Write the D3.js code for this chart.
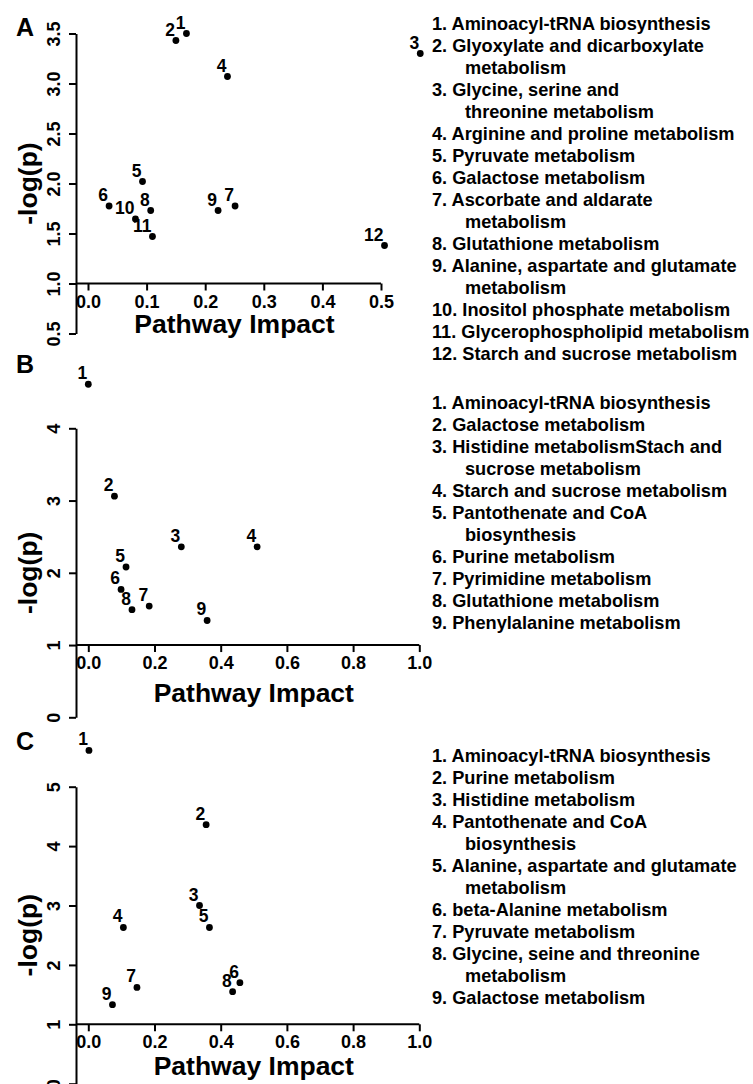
<!DOCTYPE html>
<html>
<head>
<meta charset="utf-8">
<script src="https://cdn.jsdelivr.net/npm/d3@7"></script>
<style>
  body { margin: 0; background: #fff; }
  svg { display: block; font-family: "Liberation Sans", Arial, sans-serif; font-weight: bold; }
</style>
</head>
<body>
<div id="chart"></div>
<script>
// panel A
const impactA = [0.168, 0.150, 0.567, 0.238, 0.093, 0.036, 0.251, 0.107, 0.222, 0.081, 0.110, 0.506];
const logpA = [3.50, 3.43, 3.30, 3.07, 2.02, 1.775, 1.775, 1.73, 1.73, 1.645, 1.47, 1.38];
const pathwaysA = [
  "Aminoacyl-tRNA biosynthesis",
  "Glyoxylate and dicarboxylate\nmetabolism",
  "Glycine, serine and\nthreonine metabolism",
  "Arginine and proline metabolism",
  "Pyruvate metabolism",
  "Galactose metabolism",
  "Ascorbate and aldarate\nmetabolism",
  "Glutathione metabolism",
  "Alanine, aspartate and glutamate\nmetabolism",
  "Inositol phosphate metabolism",
  "Glycerophospholipid metabolism",
  "Starch and sucrose metabolism"
];
const xTicksA = [0, 0.1, 0.2, 0.3, 0.4, 0.5];
const yTicksA = [0.5, 1.0, 1.5, 2.0, 2.5, 3.0, 3.5];

// panel B
const impactB = [0.0, 0.079, 0.281, 0.510, 0.114, 0.099, 0.184, 0.132, 0.359];
const logpB = [4.61, 3.06, 2.36, 2.36, 2.08, 1.77, 1.54, 1.49, 1.34];
const pathwaysB = [
  "Aminoacyl-tRNA biosynthesis",
  "Galactose metabolism",
  "Histidine metabolismStach and\nsucrose metabolism",
  "Starch and sucrose metabolism",
  "Pantothenate and CoA\nbiosynthesis",
  "Purine metabolism",
  "Pyrimidine metabolism",
  "Glutathione metabolism",
  "Phenylalanine metabolism"
];
const xTicksB = [0, 0.2, 0.4, 0.6, 0.8, 1.0];
const yTicksB = [0, 1, 2, 3, 4];

// panel C
const impactC = [0.002, 0.356, 0.336, 0.106, 0.366, 0.458, 0.147, 0.436, 0.073];
const logpC = [5.61, 4.36, 3.00, 2.63, 2.63, 1.70, 1.62, 1.55, 1.33];
const pathwaysC = [
  "Aminoacyl-tRNA biosynthesis",
  "Purine metabolism",
  "Histidine metabolism",
  "Pantothenate and CoA\nbiosynthesis",
  "Alanine, aspartate and glutamate\nmetabolism",
  "beta-Alanine metabolism",
  "Pyruvate metabolism",
  "Glycine, seine and threonine\nmetabolism",
  "Galactose metabolism"
];
const xTicksC = [0, 0.2, 0.4, 0.6, 0.8, 1.0];
const yTicksC = [0, 1, 2, 3, 4, 5];

const width = 753, height = 1084;
const svg = d3.select('#chart').append('svg')
  .attr('width', width)
  .attr('height', height);

const panels = [
  { letter: 'A', impact: impactA, logp: logpA, names: pathwaysA,
    xTicks: xTicksA, yTicks: yTicksA, xFmt: '.1f', yFmt: '.1f',
    xRange: [88, 381], yRange: [333.5, 33.5],
    letterY: 36, titleY: 332.5, legendY: 30 },
  { letter: 'B', impact: impactB, logp: logpB, names: pathwaysB,
    xTicks: xTicksB, yTicks: yTicksB, xFmt: '.1f', yFmt: 'd',
    xRange: [88.3, 419.3], yRange: [717.3, 428.3],
    letterY: 373.3, titleY: 701.7, legendY: 409 },
  { letter: 'C', impact: impactC, logp: logpC, names: pathwaysC,
    xTicks: xTicksC, yTicks: yTicksC, xFmt: '.1f', yFmt: 'd',
    xRange: [88.3, 419.3], yRange: [1083.7, 786.7],
    letterY: 750, titleY: 1075, legendY: 762 }
];

const yAxisX = 76;
const legendX = 432, legendIndent = 465, lineH = 22;

function drawPanel(p){
  const x = d3.scaleLinear()
    .domain(d3.extent(p.xTicks))
    .range(p.xRange);
  const y = d3.scaleLinear()
    .domain(d3.extent(p.yTicks))
    .range(p.yRange);
  const g = svg.append('g');
  const axisY = y(1); // x axis crosses at -log(p) = 1

  //y axis
  const yAxis = d3.axisLeft(y)
    .tickValues(p.yTicks)
    .tickFormat(d3.format(p.yFmt))
    .tickSize(7)
    .tickSizeOuter(0);
  const ya = g.append('g')
    .attr('transform', 'translate(' + yAxisX + ',0)')
    .call(yAxis);
  ya.select('.domain').attr('stroke-width', 2);
  ya.selectAll('.tick line').attr('stroke-width', 2);
  ya.selectAll('.tick text')
    .attr('x', null).attr('dy', null)
    .attr('transform', 'translate(-16,0) rotate(-90)')
    .attr('text-anchor', 'middle')
    .attr('font-size', 18)
    .attr('font-family', null)
    .attr('fill', '#000');

  //x axis
  const xAxis = d3.axisBottom(x)
    .tickValues(p.xTicks)
    .tickFormat(d3.format(p.xFmt))
    .tickSize(7)
    .tickSizeOuter(0);
  const xa = g.append('g')
    .attr('transform', 'translate(0,' + axisY + ')')
    .call(xAxis);
  xa.select('.domain').remove();
  xa.append('line')
    .attr('x1', yAxisX).attr('x2', x(d3.max(p.xTicks)))
    .attr('stroke', '#000').attr('stroke-width', 2);
  xa.selectAll('.tick line').attr('stroke-width', 2);
  xa.selectAll('.tick text')
    .attr('y', 24).attr('dy', null)
    .attr('font-size', 18)
    .attr('font-family', null)
    .attr('fill', '#000');

  //titles
  g.append('text')
    .attr('x', (p.xRange[0] + p.xRange[1]) / 2)
    .attr('y', p.titleY)
    .attr('text-anchor', 'middle')
    .attr('font-size', 26.5)
    .text('Pathway Impact');
  g.append('text')
    .attr('transform', 'translate(36.5,' + ((p.yRange[0] + p.yRange[1]) / 2) + ') rotate(-90)')
    .attr('text-anchor', 'middle')
    .attr('font-size', 26.5)
    .text('-log(p)');
  g.append('text')
    .attr('x', 16)
    .attr('y', p.letterY)
    .attr('font-size', 25)
    .text(p.letter);

  //points
  const pts = p.impact.map((v, i) => ({x: v, y: p.logp[i], id: i + 1}));
  g.selectAll('circle')
    .data(pts)
    .enter().append('circle')
    .attr('cx', d => x(d.x))
    .attr('cy', d => y(d.y))
    .attr('r', 3.4)
    .attr('fill', '#000');
  g.selectAll('text.lbl')
    .data(pts)
    .enter().append('text')
    .attr('class', 'lbl')
    .attr('x', d => x(d.x) - 1)
    .attr('y', d => y(d.y) - 5)
    .attr('text-anchor', 'end')
    .attr('font-size', 17.5)
    .text(d => d.id);

  //legend
  let line = 0;
  const leg = g.append('g');
  p.names.forEach((name, i) => {
    const parts = name.split('\n');
    parts.forEach((t, j) => {
      leg.append('text')
        .attr('x', j === 0 ? legendX : legendIndent)
        .attr('y', p.legendY + line * lineH)
        .attr('font-size', 18.2)
        .text(j === 0 ? (i + 1) + '. ' + t : t);
      line++;
    });
  });
}

panels.forEach(drawPanel);
</script>
</body>
</html>
